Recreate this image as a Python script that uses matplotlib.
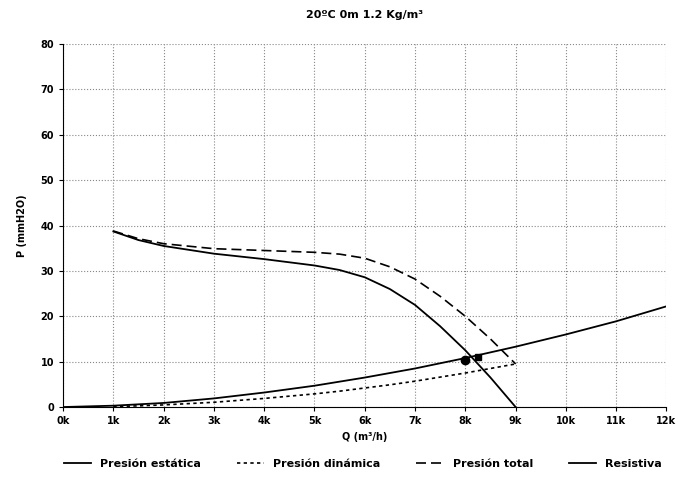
import numpy as np
from matplotlib import pyplot as plt

# caudal en miles de m3/h
q_ventilador = [1, 1.5, 2, 3, 4, 5, 5.5, 6, 6.5, 7, 7.5, 8, 8.5, 9]
p_estatica = [38.7, 36.8, 35.5, 33.8, 32.6, 31.2, 30.2, 28.6, 26.0, 22.5, 17.8, 12.5, 6.5, 0.0]
p_dinamica = [0.12, 0.26, 0.47, 1.05, 1.9, 2.9, 3.5, 4.2, 4.9, 5.7, 6.6, 7.5, 8.5, 9.5]
p_total = [38.8, 37.1, 36.0, 34.9, 34.5, 34.1, 33.7, 32.8, 30.9, 28.2, 24.4, 20.0, 15.0, 9.5]

q_resistiva = [0, 1, 2, 3, 4, 5, 6, 7, 8, 9, 10, 11, 12]
p_resistiva = [0, 0.3, 0.9, 1.9, 3.2, 4.7, 6.5, 8.5, 10.8, 13.3, 16.0, 18.9, 22.2]

punto_trabajo = (8.0, 10.4)
punto_corte = (8.25, 11.0)

x_ticks = np.arange(0, 13)
x_labels = [f'{i}k' for i in x_ticks]
y_ticks = np.arange(0, 90, 10)

fig = plt.figure(figsize=(6.78, 4.84), dpi=100)
ax = fig.add_axes([0.093, 0.159, 0.89, 0.75])

ax.plot(q_ventilador, p_estatica, color='black', lw=1.3, label='Presión estática')
ax.plot(q_ventilador, p_dinamica, color='black', lw=1.2, ls=(0, (2, 2)), label='Presión dinámica')
ax.plot(q_ventilador, p_total, color='black', lw=1.2, ls=(0, (6, 3)), label='Presión total')
ax.plot(q_resistiva, p_resistiva, color='black', lw=1.3, label='Resistiva')

ax.plot(*punto_trabajo, 'o', color='black', ms=6)
ax.plot(*punto_corte, 's', color='black', ms=5)

ax.set_xlim(0, 12)
ax.set_ylim(0, 80)
ax.set_xticks(x_ticks)
ax.set_xticklabels(x_labels, fontsize=7, fontweight='bold')
ax.set_yticks(y_ticks)
ax.set_yticklabels([str(v) for v in y_ticks], fontsize=7, fontweight='bold')
ax.grid(True, ls=':', color='#888888', lw=0.8)
ax.spines['top'].set_visible(False)
ax.spines['right'].set_visible(False)
ax.tick_params(length=3)

ax.set_xlabel('Q (m³/h)', fontsize=7, fontweight='bold')
ax.set_ylabel('P (mmH2O)', fontsize=7, fontweight='bold', labelpad=10)
ax.set_title('20ºC 0m 1.2 Kg/m³', fontsize=8, fontweight='bold', pad=19)

fig.legend(loc='lower center', bbox_to_anchor=(0.535, 0.01), ncol=4, frameon=False,
           prop={'size': 8, 'weight': 'bold'}, columnspacing=3.2, handlelength=2.5)

plt.savefig('out.png', dpi=100)
plt.close()
